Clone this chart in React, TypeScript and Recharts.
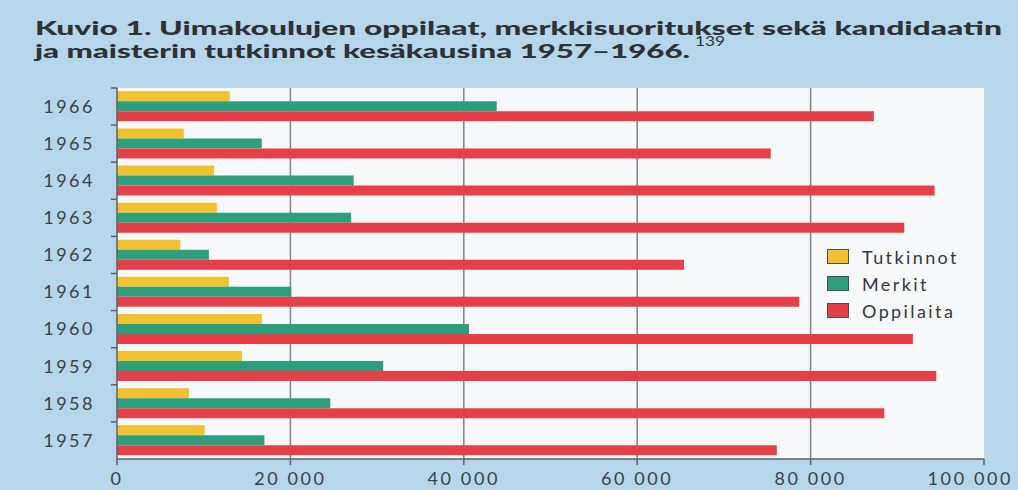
import React from "react";
import { Bar, BarChart, CartesianGrid, Legend, XAxis, YAxis } from "recharts";

const years = ["1966", "1965", "1964", "1963", "1962", "1961", "1960", "1959", "1958", "1957"];
const tutkinnot = [13000, 7700, 11200, 11500, 7300, 12900, 16700, 14400, 8300, 10100];
const merkit = [43800, 16700, 27300, 27000, 10600, 20100, 40600, 30700, 24600, 17000];
const oppilaita = [87300, 75400, 94300, 90800, 65400, 78700, 91800, 94500, 88500, 76100];
const xTicks = [0, 20000, 40000, 60000, 80000, 100000];
const gridValues = [20000, 40000, 60000, 80000];
const seriesOrder = ["tutkinnot", "merkit", "oppilaita"];

const data = years.map((year, i) => ({
  year,
  tutkinnot: tutkinnot[i],
  merkit: merkit[i],
  oppilaita: oppilaita[i],
}));

const W = 1018;
const H = 490;
const MARGIN = { top: 88, right: 34, bottom: 0, left: 17 };
const X_AXIS_H = 31;
const BAND = (H - MARGIN.top - MARGIN.bottom - X_AXIS_H) / years.length;
const FONT = "Lato, 'Open Sans', sans-serif";
const TEXT = "#3b4246";
const AXIS = "#5c6266";

const fmt = (v: number) => (v === 0 ? "0" : `${Math.round(v / 1000)} 000`);

function YearTick(props: any) {
  const { x, y, payload } = props;
  const ax = x + 22;
  return (
    <g>
      <line x1={ax - 6} x2={ax} y1={y - BAND / 2} y2={y - BAND / 2} stroke={AXIS} strokeWidth={1.5} />
      <text x={x} y={y} dy="0.35em" textAnchor="end" fill={TEXT} fontSize={18} letterSpacing={2.5} fontFamily={FONT}>
        {payload.value}
      </text>
    </g>
  );
}

function ValueTick(props: any) {
  const { x, y, payload } = props;
  const last = payload.value === xTicks[xTicks.length - 1];
  return (
    <text
      x={last ? x + 29 : x}
      y={y}
      dy="0.71em"
      textAnchor={last ? "end" : "middle"}
      fill={TEXT}
      fontSize={18}
      letterSpacing={2.6}
      fontFamily={FONT}
    >
      {fmt(payload.value)}
    </text>
  );
}

function LegendBox({ payload }: any) {
  const items = [...(payload || [])].sort(
    (a: any, b: any) => seriesOrder.indexOf(a.dataKey) - seriesOrder.indexOf(b.dataKey)
  );
  return (
    <div style={{ fontFamily: FONT, fontSize: 18, letterSpacing: 2.4, color: "#33393d" }}>
      {items.map((p: any) => (
        <div key={p.value} style={{ display: "flex", alignItems: "center", height: 27 }}>
          <span
            style={{
              display: "inline-block",
              width: 20,
              height: 13,
              background: p.color,
              border: "1.5px solid #4a4f52",
              marginRight: 13,
            }}
          />
          <span>{p.value}</span>
        </div>
      ))}
    </div>
  );
}

export default function App() {
  return (
    <div style={{ position: "absolute", left: 0, top: 0, width: W, height: H, background: "#b7d6ea", overflow: "hidden" }}>
      <svg width={W} height={80} style={{ position: "absolute", left: 0, top: 0 }}>
        <text x={35} y={35} fontFamily={FONT} fontWeight={900} fontSize={19} fill="#2c3236" textLength={967} lengthAdjust="spacingAndGlyphs">
          Kuvio 1. Uimakoulujen oppilaat, merkkisuoritukset sekä kandidaatin
        </text>
        <text x={35} y={58} fontFamily={FONT} fontWeight={900} fontSize={19} fill="#2c3236" textLength={655} lengthAdjust="spacingAndGlyphs">
          ja maisterin tutkinnot kesäkausina 1957–1966.
        </text>
        <text x={695} y={46} fontFamily={FONT} fontSize={13} fill="#2c3236" textLength={30} lengthAdjust="spacingAndGlyphs">
          139
        </text>
      </svg>
      <div style={{ position: "absolute", left: 0, top: 0 }}>
        <BarChart
          width={W}
          height={H}
          data={data}
          layout="vertical"
          margin={MARGIN}
          barCategoryGap="9%"
          barGap={0}
        >
          <CartesianGrid
            horizontal={false}
            verticalValues={gridValues}
            stroke="#7f8487"
            strokeWidth={1.5}
            fill="#f6f8f9"
            fillOpacity={1}
          />
          <XAxis
            type="number"
            domain={[0, 100000]}
            ticks={xTicks}
            height={X_AXIS_H}
            tick={<ValueTick />}
            tickMargin={7}
            tickSize={6}
            axisLine={{ stroke: AXIS, strokeWidth: 1.5 }}
            tickLine={{ stroke: AXIS, strokeWidth: 1.5 }}
          />
          <YAxis
            type="category"
            dataKey="year"
            width={100}
            tickSize={0}
            tickMargin={22}
            tick={<YearTick />}
            axisLine={{ stroke: AXIS, strokeWidth: 1.5 }}
            tickLine={false}
          />
          <Legend
            layout="vertical"
            align="center"
            verticalAlign="middle"
            content={<LegendBox />}
            wrapperStyle={{ left: 827, top: 243, width: 175 }}
          />
          <Bar dataKey="tutkinnot" name="Tutkinnot" fill="#f1c12f" isAnimationActive={false} />
          <Bar dataKey="merkit" name="Merkit" fill="#2e9f7d" isAnimationActive={false} />
          <Bar dataKey="oppilaita" name="Oppilaita" fill="#e5404a" isAnimationActive={false} />
        </BarChart>
      </div>
    </div>
  );
}
